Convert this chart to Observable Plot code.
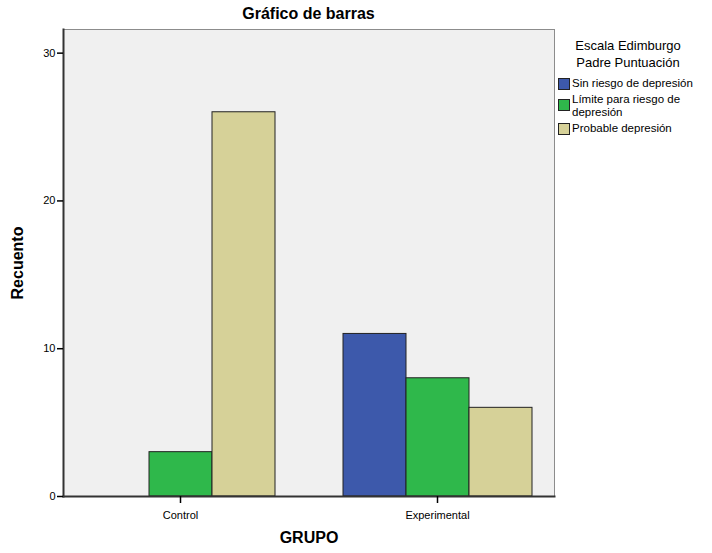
<!DOCTYPE html>
<html><head><meta charset="utf-8">
<script src="https://cdn.jsdelivr.net/npm/d3@7"></script>
<script src="https://cdn.jsdelivr.net/npm/@observablehq/plot@0.6"></script>
<style>
body{margin:0;background:#fff;font-family:Arial,"Liberation Sans",sans-serif;color:#000;}
#wrap{position:relative;width:712px;height:553px;}
#chart{position:absolute;left:0;top:0;}
#title{position:absolute;left:62px;width:493px;top:4px;text-align:center;font-weight:bold;font-size:16px;line-height:20px;}
#legend{position:absolute;left:557px;top:37px;width:155px;font-size:11.5px;}
#legend .lt{text-align:center;font-size:13px;line-height:17px;width:142px;margin-bottom:6px;}
#legend .it{position:relative;padding-left:15px;line-height:13px;margin-bottom:3px;}
#legend .sw{position:absolute;left:1px;width:10px;height:10px;border:1px solid #222;}
g[aria-label="y-axis label"] text, g[aria-label="fx-axis label"] text{font-weight:bold;font-size:16px;}
</style></head>
<body>
<div id="wrap">
  <div id="chart"></div>
  <div id="title">Gráfico de barras</div>
  <div id="legend"></div>
</div>
<script>
const groups = ["Control", "Experimental"];
const series = ["Sin riesgo de depresión", "Límite para riesgo de depresión", "Probable depresión"];
const legendLines = [["Sin riesgo de depresión"], ["Límite para riesgo de", "depresión"], ["Probable depresión"]];
const sinRiesgo = [0, 11];
const limite = [3, 8];
const probable = [26, 6];
const colors = ["#3d59ab", "#2fb84b", "#d6d198"];
const yTicks = [0, 10, 20, 30];
const legendTitle = ["Escala Edimburgo", "Padre Puntuación"];

const seriesValues = [sinRiesgo, limite, probable];
const data = groups.flatMap((g, i) => series.map((s, j) => ({grupo: g, serie: s, n: seriesValues[j][i]})));

const chart = Plot.plot({
  width: 712, height: 553,
  marginLeft: 62, marginRight: 157, marginTop: 29, marginBottom: 57,
  style: {fontFamily: "Arial, 'Liberation Sans', sans-serif", fontSize: "11px", color: "#000", background: "transparent"},
  fx: {domain: groups, paddingInner: 0.089, paddingOuter: 0},
  x: {domain: series, paddingInner: 0, paddingOuter: 0.35, axis: null},
  y: {domain: [0, 31.6]},
  color: {domain: series, range: colors},
  marks: [
    Plot.frame({facet: "super", fill: "#f0f0f0", stroke: "#8c8c8c"}),
    Plot.barY(data, {fx: "grupo", x: "serie", y: "n", fill: "serie", stroke: "#222", strokeWidth: 1, filter: d => d.n > 0}),
    Plot.frame({facet: "super", anchor: "left", stroke: "#333", strokeWidth: 2}),
    Plot.frame({facet: "super", anchor: "bottom", stroke: "#333", strokeWidth: 2}),
    Plot.axisY({ticks: yTicks, tickSize: 6, tickPadding: 2, strokeWidth: 1.5, label: "Recuento", labelAnchor: "center", labelArrow: "none", labelOffset: 52}),
    Plot.axisFx({anchor: "bottom", tickSize: 7, tickPadding: 8, strokeWidth: 1.5, label: "GRUPO", labelAnchor: "center", labelArrow: "none", labelOffset: 46})
  ]
});
document.getElementById("chart").appendChild(chart);

const lg = document.getElementById("legend");
lg.innerHTML = `<div class="lt">${legendTitle.join("<br>")}</div>` +
  series.map((s, i) => `<div class="it"><span class="sw" style="background:${colors[i]};top:${legendLines[i].length > 1 ? 6 : 1}px"></span>${legendLines[i].join("<br>")}</div>`).join("");
</script>
</body></html>
